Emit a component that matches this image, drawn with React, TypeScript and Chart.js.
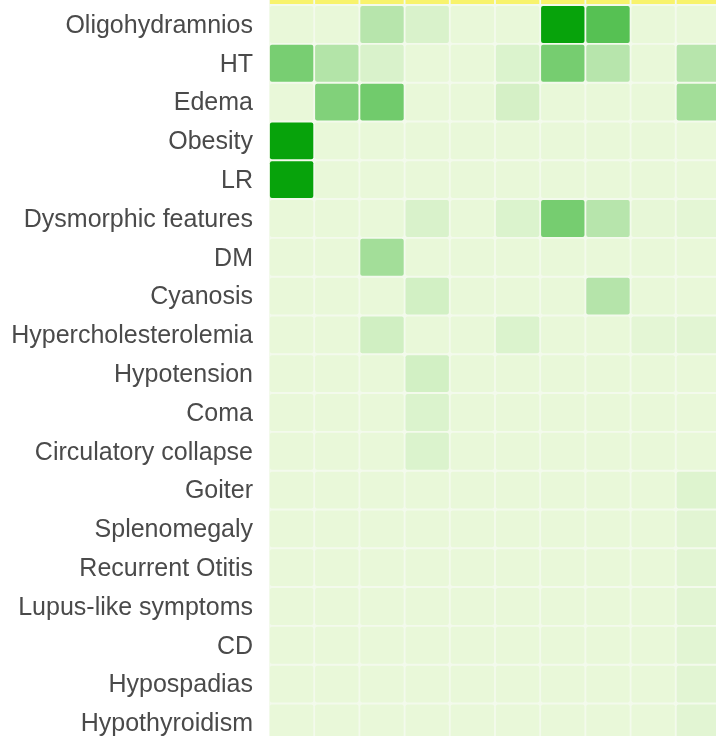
import React, { useEffect, useRef } from 'react';
import { Chart, registerables } from 'chart.js';

Chart.register(...registerables);

const rowLabels = [
  'Oligohydramnios',
  'HT',
  'Edema',
  'Obesity',
  'LR',
  'Dysmorphic features',
  'DM',
  'Cyanosis',
  'Hypercholesterolemia',
  'Hypotension',
  'Coma',
  'Circulatory collapse',
  'Goiter',
  'Splenomegaly',
  'Recurrent Otitis',
  'Lupus-like symptoms',
  'CD',
  'Hypospadias',
  'Hypothyroidism',
];

const columnKeys = ['C1', 'C2', 'C3', 'C4', 'C5', 'C6', 'C7', 'C8', 'C9', 'C10'];

// intensity 0..100 per row, one entry per column
const cellValues: number[][] = [
  [0, 0, 22, 7, 0, 0, 100, 65, 0, 0],
  [50, 24, 7, 0, 0, 6, 51, 22, 0, 22],
  [0, 46, 53, 0, 0, 9, 0, 0, 0, 31],
  [100, 0, 0, 0, 0, 0, 0, 0, 0, 0],
  [100, 0, 0, 0, 0, 0, 0, 0, 0, 0],
  [0, 0, 0, 7, 0, 6, 51, 22, 1, 2],
  [0, 0, 31, 0, 0, 0, 0, 0, 0, 0],
  [0, 0, 0, 10, 0, 0, 0, 23, 0, 0],
  [0, 0, 11, 0, 0, 6, 0, 0, 2, 3],
  [0, 0, 0, 10, 0, 0, 0, 0, 0, 0],
  [0, 0, 0, 6, 0, 0, 0, 0, 0, 0],
  [0, 0, 0, 6, 0, 0, 0, 0, 0, 0],
  [0, 0, 0, 0, 0, 0, 0, 0, 0, 5],
  [0, 0, 0, 0, 0, 0, 0, 0, 0, 3],
  [0, 0, 0, 0, 0, 0, 0, 0, 0, 3],
  [0, 0, 0, 0, 0, 0, 0, 0, 0, 3],
  [0, 0, 0, 0, 0, 0, 0, 0, 0, 3],
  [0, 0, 0, 0, 0, 0, 0, 0, 0, 3],
  [0, 0, 0, 0, 0, 0, 0, 0, 0, 3],
];

// partially visible highlighted row above the first one
const headerRowValues = [1, 1, 1, 1, 1, 1, 1, 1, 1, 1];

const LOW = [233, 248, 217];
const HIGH = [7, 163, 11];
function cellColor(v: number): string {
  const t = Math.max(0, Math.min(1, v / 100));
  const c = LOW.map((l, i) => Math.round(l + (HIGH[i] - l) * t));
  return `rgb(${c[0]},${c[1]},${c[2]})`;
}

const bgPlugin = {
  id: 'areaBg',
  beforeDatasetsDraw(chart: any) {
    const { ctx, chartArea } = chart;
    ctx.save();
    ctx.fillStyle = '#f3faec';
    ctx.fillRect(chartArea.left, chartArea.top, chartArea.right - chartArea.left, chartArea.bottom - chartArea.top);
    ctx.restore();
  },
};

export default function App() {
  const ref = useRef<HTMLCanvasElement | null>(null);

  useEffect(() => {
    if (!ref.current) return;
    const gap = 0.02;
    const cellData: any[] = [];
    const cellColors: string[] = [];
    cellValues.forEach((row, i) => {
      row.forEach((v, j) => {
        cellData.push({ y: i, x: [j + gap, j + 1 - gap], v, col: columnKeys[j] });
        cellColors.push(cellColor(v));
      });
    });
    const headerData = headerRowValues.map((v, j) => ({ y: -1, x: [j + gap, j + 1 - gap], v }));

    const chart = new Chart(ref.current, {
      type: 'bar',
      data: {
        datasets: [
          {
            label: 'cells',
            data: cellData,
            backgroundColor: cellColors,
            borderWidth: 0,
            borderRadius: 2,
            borderSkipped: false,
            barPercentage: 0.95,
            categoryPercentage: 1,
            grouped: false,
          } as any,
          {
            label: 'header',
            data: headerData,
            backgroundColor: '#f8f36c',
            borderWidth: 0,
            borderSkipped: false,
            barPercentage: 0.95,
            categoryPercentage: 1,
            grouped: false,
          } as any,
        ],
      },
      options: {
        indexAxis: 'y',
        animation: false,
        responsive: false,
        layout: { padding: 0 },
        plugins: {
          legend: { display: false },
          tooltip: { enabled: false },
        },
        scales: {
          x: {
            type: 'linear',
            min: 0,
            max: 9.89,
            offset: false,
            display: false,
          },
          y: {
            type: 'linear',
            reverse: true,
            offset: false,
            min: -0.631,
            max: 18.338,
            grid: { display: false, drawTicks: false, offset: false },
            border: { display: false },
            afterBuildTicks: (scale: any) => {
              scale.ticks = rowLabels.map((_, i) => ({ value: i }));
            },
            afterFit: (scale: any) => {
              scale.width = 269;
              scale.paddingTop = 0;
              scale.paddingBottom = 0;
            },
            ticks: {
              autoSkip: false,
              padding: 16,
              labelOffset: 1.5,
              color: '#4a4a4a',
              font: { family: "'Liberation Sans', Arial, sans-serif", size: 25 },
              callback: (value: any) => {
                const idx = Math.round(Number(value));
                return rowLabels[idx] ?? '';
              },
            },
          },
        },
      },
      plugins: [bgPlugin],
    });
    return () => chart.destroy();
  }, []);

  return (
    <div style={{ position: 'absolute', left: 0, top: 0, width: 716, height: 736 }}>
      <canvas ref={ref} width={716} height={736} />
    </div>
  );
}
